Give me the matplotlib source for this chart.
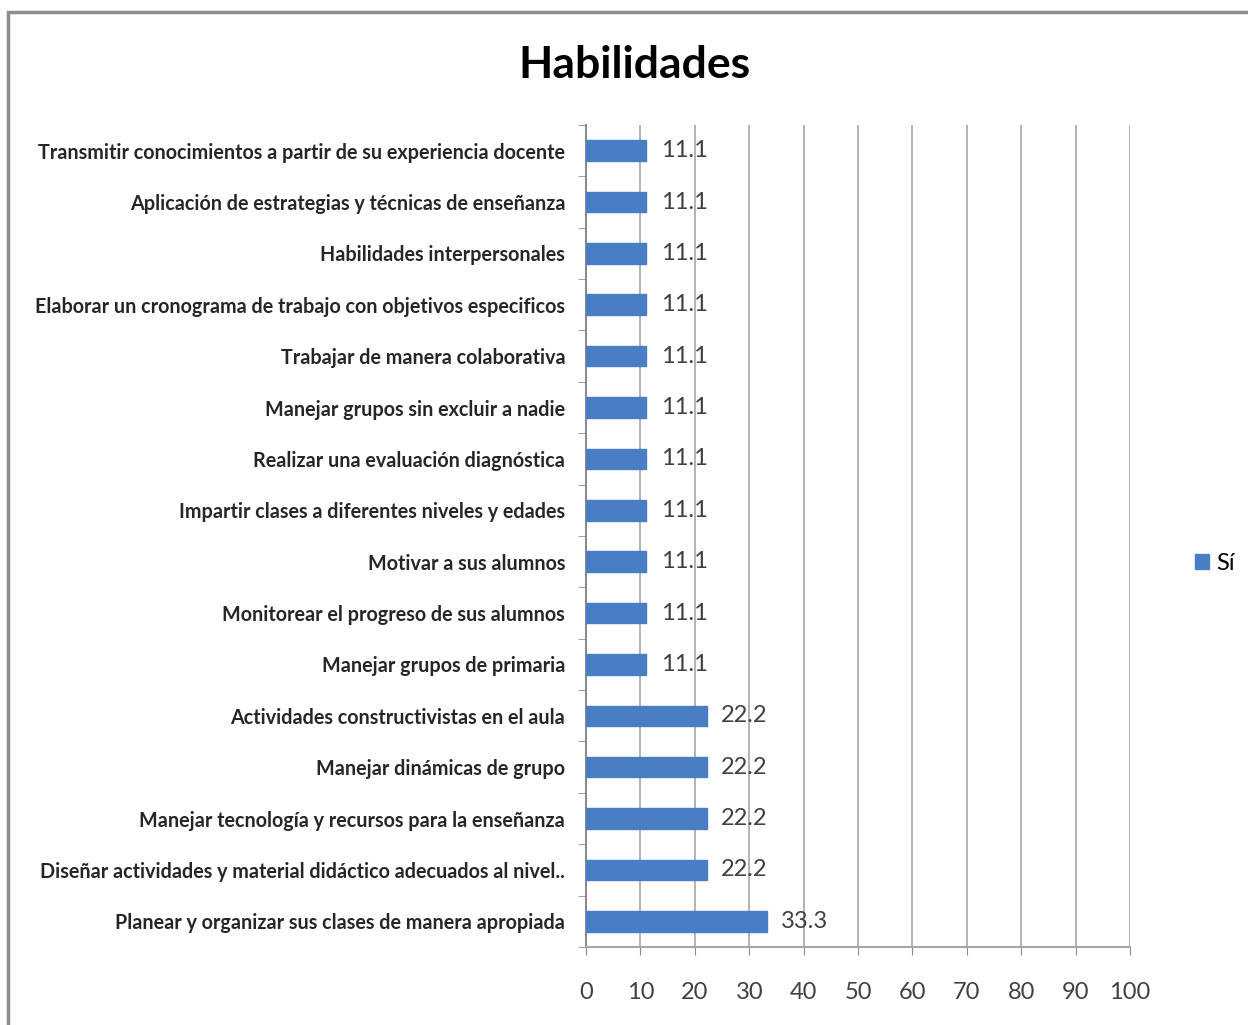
import numpy as np
import matplotlib.pyplot as plt
from matplotlib.patches import Rectangle

# datos (de abajo hacia arriba)
categorias = [
    "Planear y organizar sus clases de manera apropiada",
    "Diseñar actividades y material didáctico adecuados al nivel..",
    "Manejar tecnología y recursos para la enseñanza",
    "Manejar dinámicas de grupo",
    "Actividades constructivistas en el aula",
    "Manejar grupos de primaria",
    "Monitorear el progreso de sus alumnos",
    "Motivar a sus alumnos",
    "Impartir clases a diferentes niveles y edades",
    "Realizar una evaluación diagnóstica",
    "Manejar grupos sin excluir a nadie",
    "Trabajar de manera colaborativa",
    "Elaborar un cronograma de trabajo con objetivos especificos",
    "Habilidades interpersonales",
    "Aplicación de estrategias y técnicas de enseñanza",
    "Transmitir conocimientos a partir de su experiencia docente",
]
valores_si = [33.3, 22.2, 22.2, 22.2, 22.2, 11.1, 11.1, 11.1, 11.1,
              11.1, 11.1, 11.1, 11.1, 11.1, 11.1, 11.1]
ticks_x = [0, 10, 20, 30, 40, 50, 60, 70, 80, 90, 100]

plt.rcParams['font.family'] = ['Lato', 'DejaVu Sans']

fig = plt.figure(figsize=(12.48, 10.25), dpi=100)
ax = fig.add_axes([0.4696, 0.0761, 0.4359, 0.802])

# marco del grafico
fig.patches.append(Rectangle((8 / 1248, -0.01), 1.05, 1 - 12 / 1025 + 0.01,
                             transform=fig.transFigure, fill=False,
                             edgecolor='#8c8c8c', linewidth=2.5))

y = np.arange(len(categorias))
bars = ax.barh(y, valores_si, height=0.4, color='#4a7ec4', edgecolor='#4a7ec4',
               label='Sí', zorder=3)

for yi, v in zip(y, valores_si):
    ax.text(v + 2.6, yi, f"{v:.1f}", va='center', ha='left', fontsize=17,
            color='#404040', zorder=4)

ax.set_xlim(0, 100)
ax.set_ylim(-0.5, len(categorias) - 0.5)
ax.set_xticks(ticks_x)
ax.set_xticklabels([str(t) for t in ticks_x], fontsize=17, color='#404040')
ax.xaxis.grid(True, color='#a6a6a6', linewidth=1.2, zorder=0)
ax.tick_params(axis='x', length=6, color='#8c8c8c', pad=19)

ax.set_yticks(y)
ax.set_yticklabels(categorias, fontsize=14.2, fontweight='bold', color='#262626')
ax.set_yticks(np.arange(-0.5, len(categorias), 1), minor=True)
ax.tick_params(axis='y', which='major', length=0, pad=15)
ax.tick_params(axis='y', which='minor', length=6, color='#8c8c8c')

ax.spines['top'].set_visible(False)
ax.spines['right'].set_visible(False)
ax.spines['left'].set_color('#8c8c8c')
ax.spines['bottom'].set_color('#a6a6a6')
ax.spines['left'].set_linewidth(1.5)
ax.spines['bottom'].set_linewidth(1.5)

fig.text(634 / 1248, 1 - 65 / 1025, "Habilidades", ha='center', va='center',
         fontsize=32, fontweight='bold', color='#000000')

fig.legend(handles=[bars], labels=['Sí'], loc='center left',
           bbox_to_anchor=(1174 / 1248, 1 - 563 / 1025), frameon=False,
           fontsize=17, handlelength=0.6, handleheight=0.6, handletextpad=0.3)

fig.savefig("out.png", dpi=100, facecolor='white')
